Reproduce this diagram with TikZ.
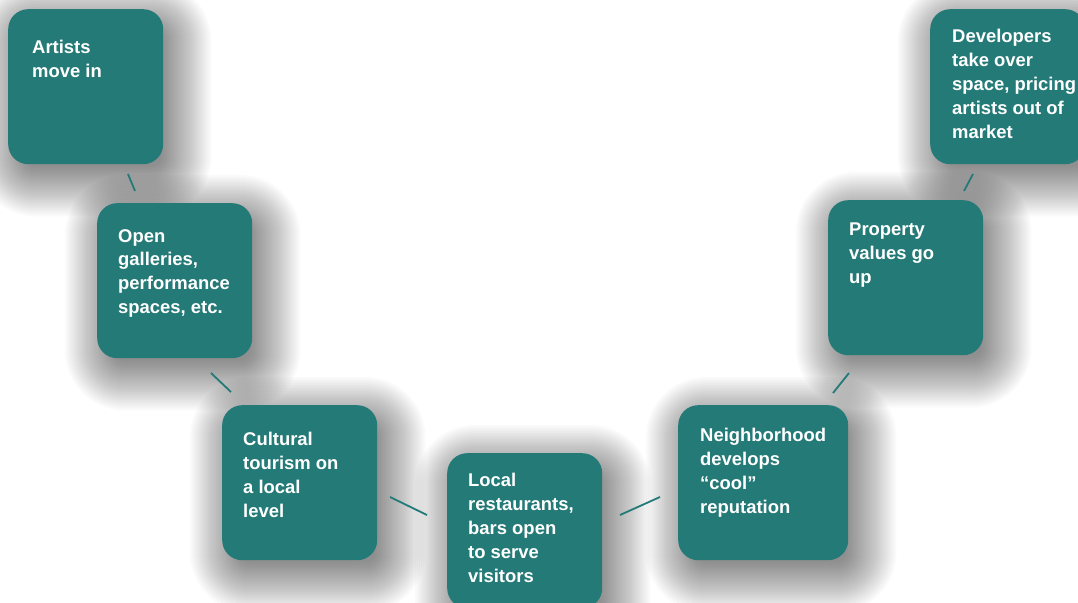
\documentclass[tikz,border=0pt]{standalone}
\usepackage{fontspec}
\setmainfont{Liberation Sans}
\usetikzlibrary{calc}
\definecolor{tealbox}{RGB}{36,122,119}
\pgfdeclarelayer{shadowlayer}
\pgfsetlayers{shadowlayer,main}
\begin{document}
\begin{tikzpicture}[x=1bp,y=-1bp,
  box/.style={fill=tealbox, rounded corners=20bp, minimum width=155bp, minimum height=155bp,
    anchor=north west, inner sep=0pt},
  txt/.style={text=white, font=\fontsize{18.5}{24}\selectfont\bfseries, align=left,
    anchor=north west, inner sep=0pt},
  conn/.style={draw=tealbox, line width=1.8bp},
  shadowfill/.style={fill=black, opacity=0.019}]
\clip (0,0) rectangle (1078,603);
% boxes
\node[box] (n1) at (8,9) {};
\node[box] (n2) at (97,203) {};
\node[box] (n3) at (222,405) {};
\node[box] (n4) at (447,453) {};
\node[box, minimum width=170bp] (n5) at (678,405) {};
\node[box] (n6) at (828,200) {};
\node[box] (n7) at (930,9) {};
% soft shadows
\begin{pgfonlayer}{shadowlayer}
\fill[white] (0,0) rectangle (1078,603);
\foreach \n in {n1,n2,n3,n4,n5,n6,n7}{
  \foreach \i in {-10,-8,...,40}{
    \pgfmathsetmacro\rr{max(20+\i,4)}
    \fill[shadowfill, rounded corners=\rr bp]
      ($(\n.north west)+(8-\i,12-\i)$) rectangle ($(\n.south east)+(8+\i,12+\i)$);
  }
}
\end{pgfonlayer}
% texts
\node[txt] (t1) at (32,40) {Artists\\move in};
\node[txt] (t2) at (118,229) {Open\\galleries,\\performance\\spaces, etc.};
\node[txt] (t3) at (243,432) {Cultural\\tourism on\\a local\\level};
\node[txt] (t4) at (468,473) {Local\\restaurants,\\bars open\\to serve\\visitors};
\node[txt] (t5) at (700,428) {Neighborhood\\develops\\“cool”\\reputation};
\node[txt] (t6) at (849,223) {Property\\values go\\up};
\node[txt] (t7) at (952,29) {Developers\\take over\\space, pricing\\artists out of\\market};
% connectors
\coordinate (c1a) at (128,174); \coordinate (c1b) at (135,191);
\coordinate (c2a) at (211,373); \coordinate (c2b) at (231,392);
\coordinate (c3a) at (390,497); \coordinate (c3b) at (427,515);
\coordinate (c4a) at (620,515); \coordinate (c4b) at (660,497);
\coordinate (c5a) at (833,393); \coordinate (c5b) at (849,373);
\coordinate (c6a) at (964,191); \coordinate (c6b) at (973,174);
\draw[conn] (c1a) -- (c1b);
\draw[conn] (c2a) -- (c2b);
\draw[conn] (c3a) -- (c3b);
\draw[conn] (c4a) -- (c4b);
\draw[conn] (c5a) -- (c5b);
\draw[conn] (c6a) -- (c6b);
\end{tikzpicture}
\end{document}
